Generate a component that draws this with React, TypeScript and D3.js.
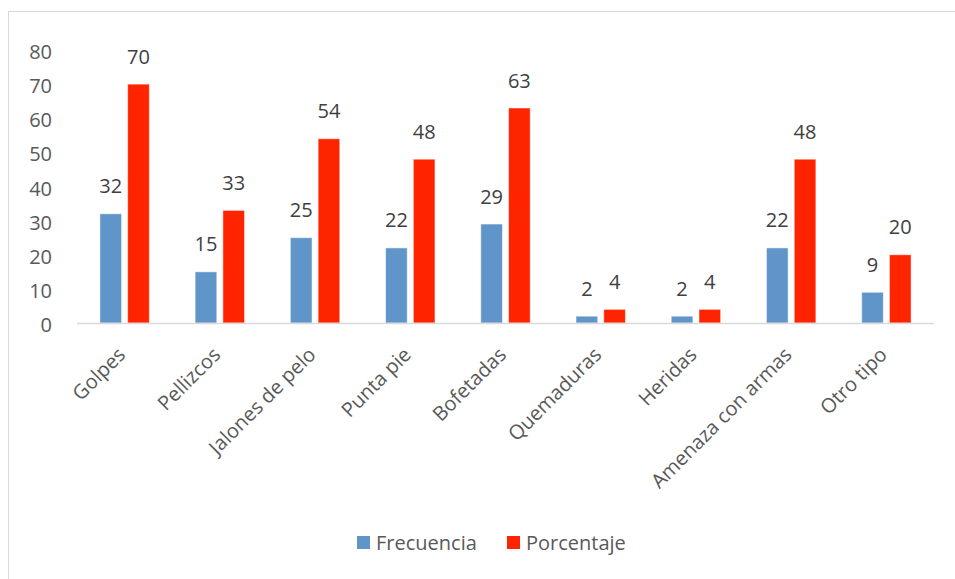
import React from "react";
import * as d3 from "d3";

const categories = [
  "Golpes",
  "Pellizcos",
  "Jalones de pelo",
  "Punta pie",
  "Bofetadas",
  "Quemaduras",
  "Heridas",
  "Amenaza con armas",
  "Otro tipo",
];
const frecuencia = [32, 15, 25, 22, 29, 2, 2, 22, 9];
const porcentaje = [70, 33, 54, 48, 63, 4, 4, 48, 20];
const seriesNames = ["Frecuencia", "Porcentaje"];
const seriesColors = ["#5F95C9", "#FF2400"];
const yTicks = [0, 10, 20, 30, 40, 50, 60, 70, 80];

const W = 955;
const H = 579;
const FONT = "'Open Sans', 'Noto Sans', sans-serif";

export default function App() {
  const x0 = d3.scaleBand<string>().domain(categories).range([77, 934]).padding(0);
  const bw = x0.bandwidth();
  const groupSpan = 49.4;
  const x1 = d3
    .scaleBand<string>()
    .domain(seriesNames)
    .range([(bw - groupSpan) / 2, (bw + groupSpan) / 2])
    .paddingInner(0.22)
    .paddingOuter(0);
  const y = d3.scaleLinear().domain([0, 80]).range([323, 50]);
  const data = [frecuencia, porcentaje];

  return (
    <svg
      width={W}
      height={H}
      style={{ position: "absolute", left: 0, top: 0, background: "#fff" }}
      fontFamily={FONT}
    >
      <rect x={8.5} y={11.5} width={1000} height={700} fill="#fff" stroke="#D9D9D9" strokeWidth={1} />
      {/* y tick labels */}
      {yTicks.map((t) => (
        <text
          key={t}
          x={52}
          y={y(t) + 2}
          dy="0.35em"
          textAnchor="end"
          fontSize={20}
          fill="#595959"
        >
          {t}
        </text>
      ))}
      {/* bars */}
      {categories.map((c, i) => (
        <g key={c} transform={`translate(${x0(c)},0)`}>
          {seriesNames.map((s, si) => {
            const v = data[si][i];
            const bx = x1(s) as number;
            return (
              <g key={s}>
                <rect
                  x={bx}
                  y={y(v)}
                  width={x1.bandwidth()}
                  height={y(0) - y(v)}
                  fill={seriesColors[si]}
                  stroke="#ffffff"
                  strokeOpacity={0.5}
                  strokeWidth={1}
                />
                <text
                  x={bx + x1.bandwidth() / 2}
                  y={y(v) - 20.5}
                  textAnchor="middle"
                  fontSize={20}
                  fill="#404040"
                >
                  {v}
                </text>
              </g>
            );
          })}
        </g>
      ))}
      {/* x axis line */}
      <line x1={77} x2={934} y1={323.5} y2={323.5} stroke="#D9D9D9" strokeWidth={1.5} />
      {/* category labels */}
      {categories.map((c) => {
        const cx = (x0(c) as number) + bw / 2;
        return (
          <text
            key={c}
            transform={`translate(${cx - 3},${351}) rotate(-45)`}
            textAnchor="end"
            dy="0.35em"
            fontSize={20}
            fill="#595959"
          >
            {c}
          </text>
        );
      })}
      {/* legend */}
      {seriesNames.map((s, si) => {
        const lx = si === 0 ? 357 : 507;
        return (
          <g key={s}>
            <rect x={lx} y={536} width={13} height={13} fill={seriesColors[si]} />
            <text x={lx + 19} y={543} dy="0.35em" fontSize={20} fill="#595959">
              {s}
            </text>
          </g>
        );
      })}
    </svg>
  );
}
